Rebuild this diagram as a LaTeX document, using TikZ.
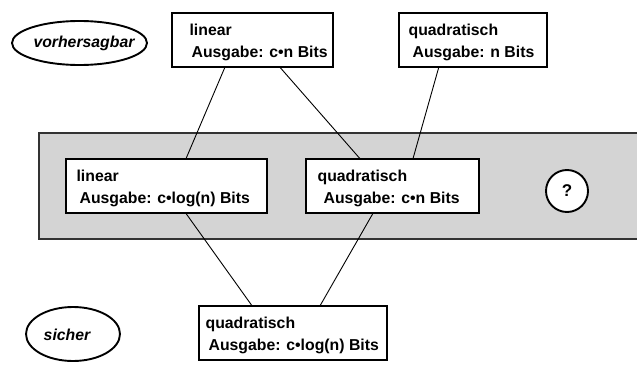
\documentclass[tikz,border=0pt]{standalone}
\usepackage{fontspec}
\setmainfont{Liberation Sans}
\usetikzlibrary{calc,shapes.geometric}
\definecolor{bandgray}{HTML}{D4D4D4}
\definecolor{banddraw}{HTML}{333333}
\tikzset{
  box/.style={draw=black, line width=1.2pt, fill=white, rectangle, inner sep=0pt},
  txt/.style={inner sep=0pt, anchor=base west, font=\bfseries\fontsize{15.8}{18}\selectfont},
  tag/.style={draw=black, line width=1.9pt, ellipse, inner sep=0pt},
  tagtxt/.style={inner sep=0pt, anchor=base, font=\bfseries\itshape\fontsize{15.8}{18}\selectfont},
  link/.style={draw=black, line width=0.9pt},
}
\begin{document}
\begin{tikzpicture}[x=1pt,y=-1pt]
\useasboundingbox (0,0) rectangle (637,372);

% grey band
\fill[bandgray] (39,133) rectangle (640,239);
\draw[banddraw, line width=1.9pt] (640,133) -- (39,133) -- (39,239) -- (640,239);

% boxes
\node[box, minimum width=161pt, minimum height=54pt] (A) at (252.5,40) {};
\node[box, minimum width=148pt, minimum height=54pt] (B) at (473,40) {};
\node[box, minimum width=201pt, minimum height=54pt] (C) at (166.5,186) {};
\node[box, minimum width=173pt, minimum height=54pt] (D) at (392.5,186) {};
\node[box, minimum width=188pt, minimum height=54pt] (E) at (293,333) {};

% box texts
\node[txt] (A1) at ($(A.north west)+(18,23.5)$) {linear};
\node[txt] (A2) at ($(A.north west)+(20,45)$) {Ausgabe: c\textbullet n Bits};
\node[txt] (B1) at ($(B.north west)+(10,23.5)$) {quadratisch};
\node[txt] (B2) at ($(B.north west)+(14,45)$) {Ausgabe: n Bits};
\node[txt] (C1) at ($(C.north west)+(11,23.5)$) {linear};
\node[txt] (C2) at ($(C.north west)+(14,45)$) {Ausgabe: c\textbullet log(n) Bits};
\node[txt] (D1) at ($(D.north west)+(12,23.5)$) {quadratisch};
\node[txt] (D2) at ($(D.north west)+(18,45)$) {Ausgabe: c\textbullet n Bits};
\node[txt] (E1) at ($(E.north west)+(7,23.5)$) {quadratisch};
\node[txt] (E2) at ($(E.north west)+(10,45)$) {Ausgabe: c\textbullet log(n) Bits};

% tags
\node[tag, minimum width=135pt, minimum height=44pt] (V) at (79.5,43) {};
\node[tagtxt] (Vt) at (84,47) {vorhersagbar};
\node[tag, minimum width=94pt, minimum height=54pt] (S) at (73,334) {};
\node[tagtxt] (St) at (67,340) {sicher};

% unknown class
\node[draw=black, line width=1.9pt, fill=white, circle, minimum size=42pt, inner sep=0pt,
      font=\bfseries\fontsize{17}{20}\selectfont] (Q) at (567,191) {?};

% connectors
\draw[link] ($(A.south west)!0.329!(A.south east)$) -- ($(C.north west)!0.597!(C.north east)$);
\draw[link] ($(A.south west)!0.671!(A.south east)$) -- ($(D.north west)!0.312!(D.north east)$);
\draw[link] ($(B.south west)!0.27!(B.south east)$) -- ($(D.north west)!0.618!(D.north east)$);
\draw[link] ($(C.south west)!0.597!(C.south east)$) -- ($(E.north west)!0.282!(E.north east)$);
\draw[link] ($(D.south west)!0.387!(D.south east)$) -- ($(E.north west)!0.644!(E.north east)$);
\end{tikzpicture}
\end{document}
